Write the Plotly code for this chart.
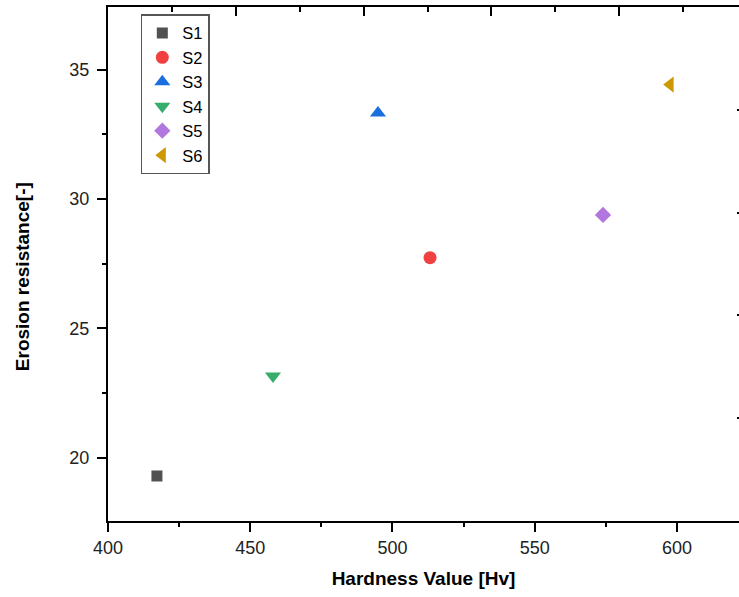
import plotly.graph_objects as go

# Data
series = ["S1", "S2", "S3", "S4", "S5", "S6"]
hardness = [417.2, 513.2, 494.9, 458.0, 574.0, 597.6]
erosion = [19.29, 27.73, 33.32, 23.16, 29.38, 34.42]
colors = ["#515151", "#F14040", "#1A6FDF", "#37AD6B", "#B177DE", "#CC9900"]
symbols = ["square", "circle", "triangle-up", "triangle-down", "diamond", "triangle-left"]
sizes = [11, 13, 14, 14, 12.5, 14]

x_title = "Hardness Value [Hv]"
y_title = "Erosion resistance[-]"

FONT = "Liberation Sans, Arial, sans-serif"

fig = go.Figure()
for name, xv, yv, c, s, sz in zip(series, hardness, erosion, colors, symbols, sizes):
    fig.add_trace(go.Scatter(
        x=[xv], y=[yv], mode="markers", name=name,
        marker=dict(color=c, symbol=s, size=sz, line=dict(width=0)),
    ))

# invisible trace to activate the secondary (frame) axes
fig.add_trace(go.Scatter(x=[None], y=[None], xaxis="x2", yaxis="y2",
                         showlegend=False, hoverinfo="skip"))

axis_common = dict(
    showgrid=False, zeroline=False, showline=True, linecolor="black", linewidth=2,
    ticks="outside", ticklen=9, tickwidth=2, tickcolor="black",
    tickfont=dict(family=FONT, size=18, color="#222222"),
)

fig.update_layout(
    width=739, height=597,
    margin=dict(l=108, r=0, t=7, b=76),
    paper_bgcolor="white", plot_bgcolor="white",
    font=dict(family=FONT, size=18, color="black"),
    xaxis=dict(
        **axis_common,
        range=[400, 621.8], dtick=50, tick0=400,
        minor=dict(dtick=25, ticks="outside", ticklen=4, tickwidth=2, tickcolor="black"),
        title=dict(text="<b>" + x_title + "</b>", font=dict(family=FONT, size=19, color="black"), standoff=15),
    ),
    yaxis=dict(
        **axis_common,
        range=[17.55, 37.42], dtick=5, tick0=20,
        minor=dict(dtick=2.5, ticks="outside", ticklen=4, tickwidth=2, tickcolor="black"),
        ticklabelstandoff=4,
    ),
    xaxis2=dict(
        overlaying="x", side="top", range=[0, 4.937], dtick=1, tick0=0,
        showline=True, linecolor="black", linewidth=2, showgrid=False, zeroline=False,
        ticks="inside", ticklen=9, tickwidth=2, tickcolor="black", showticklabels=False,
        minor=dict(dtick=0.5, ticks="inside", ticklen=5, tickwidth=2, tickcolor="black"),
    ),
    yaxis2=dict(
        overlaying="y", side="right", range=[0, 5], dtick=1, tick0=0,
        showline=False, showgrid=False, zeroline=False,
        ticks="inside", ticklen=2, tickwidth=2, tickcolor="black", showticklabels=False,
    ),
    legend=dict(
        x=0.052, y=0.986, xanchor="left", yanchor="top",
        bgcolor="white", bordercolor="#555555", borderwidth=1.5,
        font=dict(family=FONT, size=16.5, color="black"),
        itemwidth=30, tracegroupgap=0,
    ),
    showlegend=True,
    annotations=[dict(
        text="<b>" + y_title + "</b>", textangle=-90,
        xref="paper", yref="paper", x=-0.136, y=0.4747,
        xanchor="center", yanchor="middle", showarrow=False,
        font=dict(family=FONT, size=19, color="black"),
    )],
)

fig.write_html("out.html")
